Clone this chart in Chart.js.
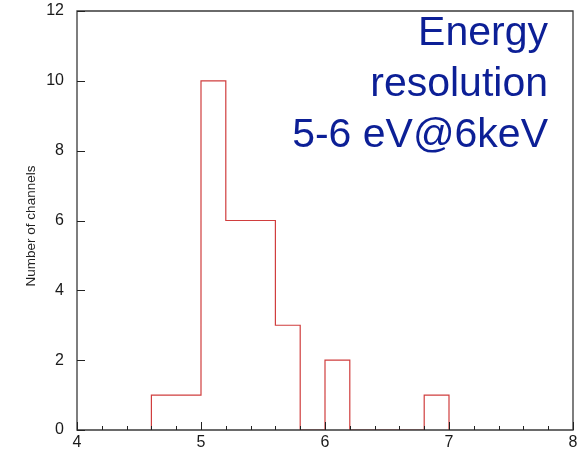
<!DOCTYPE html>
<html>
<head>
<meta charset="utf-8">
<script src="https://cdn.jsdelivr.net/npm/chart.js@4/dist/chart.umd.min.js"></script>
<style>
  html, body { margin: 0; padding: 0; background: #fff; }
  #wrap { width: 581px; height: 449px; position: relative; }
  canvas { display: block; }
</style>
</head>
<body>
<div id="wrap"><canvas id="c" width="581" height="449"></canvas></div>
<script>
// Histogram of energy resolution per channel (eV FWHM at 6 keV)
const binLowEdges = [4.6, 4.8, 5.0, 5.2, 5.4, 5.6, 5.8, 6.0, 6.2, 6.4, 6.6, 6.8];
const binWidth = 0.2;
const channelCounts = [1, 1, 10, 6, 6, 3, 0, 2, 0, 0, 0, 1];
const xTickValues = [4, 5, 6, 7, 8];
const yTickValues = [0, 2, 4, 6, 8, 10, 12];
const titleLines = ['Energy', 'resolution', '5-6 eV@6keV'];
const yAxisTitle = 'Number of channels';

const FONT = '"Liberation Sans", Arial, Helvetica, sans-serif';

// Histogram outline: start at zero on the first edge, hold each count across its bin, close at zero.
const outline = [{ x: binLowEdges[0], y: 0 }];
binLowEdges.forEach((e, i) => outline.push({ x: e, y: channelCounts[i] }));
outline.push({ x: binLowEdges[binLowEdges.length - 1] + binWidth, y: 0 });

// Frame, inward tick marks and text drawn on top of the histogram
const framePlugin = {
  id: 'frame',
  afterDatasetsDraw(chart) {
    const { ctx, chartArea: a, scales: { x, y } } = chart;
    ctx.save();
    ctx.strokeStyle = '#3a3a3a';
    ctx.lineWidth = 1.3;
    ctx.beginPath();
    ctx.rect(a.left, a.top, a.right - a.left, a.bottom - a.top);
    ctx.stroke();

    ctx.lineWidth = 1;
    ctx.strokeStyle = '#222';
    ctx.beginPath();
    // x minor ticks every 0.2, major at integers
    for (let k = 0; k <= 20; k++) {
      const v = 4 + k * 0.2;
      const px = Math.round(x.getPixelForValue(v)) + 0.5;
      const len = (k % 5 === 0) ? 8 : 4;
      ctx.moveTo(px, a.bottom);
      ctx.lineTo(px, a.bottom - len);
    }
    // y major ticks
    yTickValues.forEach(v => {
      const py = Math.round(y.getPixelForValue(v)) + 0.5;
      ctx.moveTo(a.left, py);
      ctx.lineTo(a.left + 8, py);
    });
    ctx.stroke();

    // y-axis title
    ctx.save();
    ctx.translate(31, 226);
    ctx.rotate(-Math.PI / 2);
    ctx.fillStyle = '#222';
    ctx.font = '13.5px ' + FONT;
    ctx.textAlign = 'center';
    ctx.textBaseline = 'middle';
    ctx.fillText(yAxisTitle, 0, 0);
    ctx.restore();

    // annotation text in the upper right
    ctx.fillStyle = '#0c1f96';
    ctx.font = '41px ' + FONT;
    ctx.textAlign = 'right';
    ctx.textBaseline = 'alphabetic';
    const baselines = [45, 96, 147];
    titleLines.forEach((t, i) => ctx.fillText(t, 548, baselines[i]));
    ctx.restore();
  }
};

new Chart(document.getElementById('c'), {
  type: 'line',
  data: {
    datasets: [{
      data: outline,
      stepped: 'before',
      borderColor: 'rgb(208,62,62)',
      borderWidth: 1.2,
      pointRadius: 0,
      fill: false,
      tension: 0
    }]
  },
  options: {
    responsive: false,
    animation: false,
    devicePixelRatio: 1,
    layout: { autoPadding: false, padding: { top: 11, right: 8, left: 0, bottom: 0 } },
    plugins: { legend: { display: false }, tooltip: { enabled: false } },
    scales: {
      x: {
        type: 'linear',
        min: 4, max: 8,
        afterBuildTicks: s => { s.ticks = xTickValues.map(v => ({ value: v })); },
        afterFit: s => { s.height = 19; s.paddingLeft = 0; s.paddingRight = 0; },
        grid: { display: false, drawTicks: false },
        border: { display: false },
        ticks: { color: '#1a1a1a', padding: 3, autoSkip: false, font: { family: FONT, size: 16 }, maxRotation: 0 }
      },
      y: {
        type: 'linear',
        min: 0, max: 12,
        afterBuildTicks: s => { s.ticks = yTickValues.map(v => ({ value: v })); },
        afterFit: s => { s.width = 77; s.paddingTop = 0; s.paddingBottom = 0; },
        grid: { display: false, drawTicks: false },
        border: { display: false },
        ticks: { color: '#1a1a1a', padding: 13, autoSkip: false, font: { family: FONT, size: 16 } }
      }
    }
  },
  plugins: [framePlugin]
});
</script>
</body>
</html>
